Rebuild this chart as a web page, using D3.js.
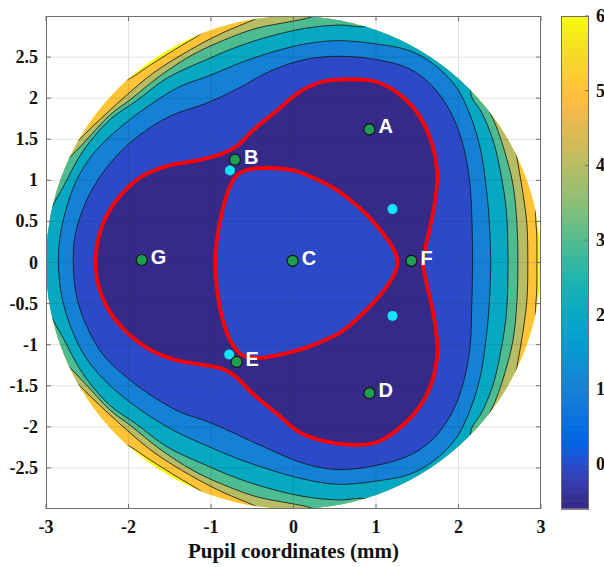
<!DOCTYPE html>
<html><head><meta charset="utf-8">
<script src="https://cdn.jsdelivr.net/npm/d3@7"></script>
<style>html,body{margin:0;padding:0;background:#fff}svg{display:block}</style>
</head><body>
<svg id="chart" width="604" height="567"></svg>
<script>
// ---------------- data ----------------
const xTicks = [-3, -2, -1, 0, 1, 2, 3];
const yTicks = [-2.5, -2, -1.5, -1, -0.5, 0, 0.5, 1, 1.5, 2, 2.5];
const colorbarTicks = [0, 1, 2, 3, 4, 5, 6];
const colorLimits = [-0.6, 6];
const pupilRadius = 3;
const xLabel = "Pupil coordinates (mm)";

const pointNames = ["A", "B", "C", "D", "E", "F", "G"];
const pointX = [0.92, -0.71, -0.01, 0.92, -0.69, 1.43, -1.84];
const pointY = [1.62, 1.25, 0.02, -1.59, -1.21, 0.02, 0.03];

const cyanX = [-0.77, 1.20, 1.20, -0.78];
const cyanY = [1.12, 0.65, -0.65, -1.12];

// MATLAB parula (64)
const parula = ["#352a87","#363093","#3637a0","#353dad","#3243ba","#2c4ac7","#2053d4","#0f5cdd","#0363e1","#0268e1","#046de0","#0871de","#0d75dc","#1079da","#127dd8","#1481d6","#1485d4","#1389d3","#108ed2","#0c93d2","#0998d1","#079ccf","#06a0cd","#06a4ca","#06a7c6","#07a9c2","#0aacbe","#0faeb9","#15b1b4","#1db3af","#25b5a9","#2eb7a4","#38b99e","#42bb98","#4dbc92","#59bd8c","#65be86","#71bf80","#7cbf7b","#87bf77","#92bf73","#9cbf6f","#a5be6b","#aebe67","#b7bd64","#c0bc60","#c8bc5d","#d1bb59","#d9ba56","#e1b952","#e9b94e","#f1b94a","#f8bb44","#fdbe3d","#ffc337","#fec832","#fcce2e","#fad32a","#f7d826","#f5de21","#f5e41d","#f5eb18","#f6f313","#f9fb0e"];

// level 0 contour (red): outer trefoil and inner triangle
const zeroOuter = [[-2.40,0.00],[-2.38,0.22],[-2.31,0.47],[-2.15,0.75],[-1.88,1.02],[-1.55,1.17],[-1.13,1.25],[-0.85,1.33],[-0.67,1.43],[-0.49,1.61],[-0.20,1.85],[0.08,2.08],[0.35,2.20],[0.68,2.23],[1.00,2.20],[1.24,2.08],[1.48,1.85],[1.65,1.53],[1.74,1.12],[1.73,0.85],[1.68,0.55],[1.61,0.23],[1.57,0.00],[1.61,-0.24],[1.68,-0.55],[1.73,-0.85],[1.74,-1.15],[1.65,-1.53],[1.48,-1.82],[1.24,-2.05],[1.00,-2.19],[0.72,-2.22],[0.40,-2.18],[0.08,-2.07],[-0.20,-1.84],[-0.49,-1.60],[-0.69,-1.40],[-0.85,-1.30],[-1.13,-1.24],[-1.45,-1.18],[-1.74,-1.06],[-2.02,-0.85],[-2.22,-0.61],[-2.35,-0.33]];
const zeroInner = [[-0.95,0.00],[-0.93,0.27],[-0.87,0.60],[-0.78,0.90],[-0.69,1.06],[-0.55,1.13],[-0.30,1.15],[0.00,1.12],[0.22,1.04],[0.48,0.91],[0.70,0.75],[0.89,0.58],[1.08,0.36],[1.22,0.15],[1.26,0.00],[1.22,-0.15],[1.08,-0.36],[0.89,-0.57],[0.60,-0.83],[0.30,-0.98],[0.05,-1.07],[-0.20,-1.13],[-0.41,-1.16],[-0.62,-1.13],[-0.76,-0.96],[-0.87,-0.65],[-0.93,-0.30]];

// level 1 and 2 contours (closed)
const level1 = [[-2.67,0.00],[-2.65,0.31],[-2.56,0.63],[-2.40,0.96],[-2.16,1.28],[-1.88,1.54],[-1.50,1.78],[-1.05,1.94],[-0.67,2.12],[-0.26,2.34],[0.14,2.47],[0.54,2.51],[1.00,2.47],[1.40,2.36],[1.69,2.14],[1.91,1.82],[2.05,1.45],[2.13,1.03],[2.16,0.60],[2.17,0.00],[2.16,-0.55],[2.14,-1.02],[2.06,-1.46],[1.92,-1.83],[1.69,-2.15],[1.40,-2.35],[1.00,-2.47],[0.54,-2.52],[0.14,-2.45],[-0.26,-2.29],[-0.67,-2.10],[-1.03,-1.94],[-1.35,-1.83],[-1.66,-1.66],[-2.02,-1.40],[-2.31,-1.12],[-2.51,-0.77],[-2.63,-0.41]];
const level2 = [[-2.85,0.00],[-2.83,0.31],[-2.75,0.67],[-2.63,1.00],[-2.43,1.32],[-2.14,1.61],[-1.78,1.89],[-1.38,2.14],[-1.03,2.27],[-0.67,2.42],[-0.26,2.56],[0.14,2.66],[0.54,2.70],[1.00,2.66],[1.40,2.58],[1.69,2.42],[1.97,2.14],[2.15,1.77],[2.27,1.36],[2.33,0.96],[2.37,0.55],[2.39,0.00],[2.37,-0.55],[2.33,-0.96],[2.27,-1.36],[2.15,-1.77],[1.97,-2.14],[1.69,-2.42],[1.40,-2.58],[1.00,-2.66],[0.54,-2.70],[0.14,-2.64],[-0.26,-2.53],[-0.67,-2.39],[-1.03,-2.24],[-1.46,-2.04],[-1.86,-1.79],[-2.22,-1.50],[-2.51,-1.17],[-2.69,-0.81],[-2.81,-0.41]];

// level 3..6 contours: pieces that cross the pupil edge (clockwise order)
const level3 = [
  [[-3.08,0.50],[-2.86,0.80],[-2.74,1.02],[-2.60,1.28],[-2.42,1.53],[-2.20,1.76],[-1.90,1.97],[-1.54,2.24],[-1.03,2.48],[-0.67,2.63],[-0.26,2.76],[0.14,2.85],[0.54,2.89],[0.90,2.88],[1.05,3.00]],
  [[2.20,2.30],[2.15,2.05],[2.29,1.81],[2.43,1.45],[2.52,1.04],[2.58,0.63],[2.60,0.00],[2.58,-0.63],[2.52,-1.04],[2.43,-1.45],[2.29,-1.81],[2.15,-2.05],[2.20,-2.30]],
  [[1.05,-3.00],[0.90,-2.88],[0.54,-2.89],[0.14,-2.85],[-0.26,-2.76],[-0.67,-2.63],[-1.03,-2.48],[-1.54,-2.24],[-1.90,-1.97],[-2.20,-1.76],[-2.42,-1.53],[-2.60,-1.28],[-2.74,-1.02],[-2.86,-0.80],[-3.08,-0.50]]
];
const level4 = [
  [[-2.90,1.10],[-2.75,1.24],[-2.52,1.48],[-2.22,1.80],[-1.98,1.98],[-1.62,2.27],[-1.22,2.53],[-0.86,2.70],[-0.45,2.85],[-0.05,2.93],[0.22,2.99],[0.45,3.12]],
  [[2.28,2.05],[2.38,1.83],[2.46,1.65],[2.56,1.35],[2.66,0.95],[2.71,0.45],[2.72,0.00],[2.71,-0.45],[2.66,-0.95],[2.56,-1.35],[2.46,-1.65],[2.38,-1.83],[2.28,-2.05]],
  [[0.45,-3.12],[0.22,-2.99],[-0.05,-2.93],[-0.45,-2.85],[-0.86,-2.70],[-1.22,-2.53],[-1.62,-2.27],[-1.98,-1.98],[-2.22,-1.80],[-2.52,-1.48],[-2.75,-1.24],[-2.90,-1.10]]
];
const level5 = [
  [[-2.78,1.30],[-2.63,1.46],[-2.42,1.67],[-2.03,2.03],[-1.68,2.32],[-1.25,2.59],[-0.87,2.79],[-0.45,2.97],[-0.20,3.10]],
  [[2.65,1.60],[2.70,1.32],[2.78,0.85],[2.83,0.45],[2.84,0.00],[2.83,-0.45],[2.78,-0.85],[2.70,-1.32],[2.65,-1.60]],
  [[-0.20,-3.10],[-0.45,-2.97],[-0.87,-2.79],[-1.25,-2.59],[-1.68,-2.32],[-2.03,-2.03],[-2.42,-1.67],[-2.63,-1.46],[-2.78,-1.30]]
];
const level6 = [
  [[-2.15,2.20],[-2.007,2.229],[-1.743,2.399],[-1.437,2.593],[-1.124,2.782],[-0.95,2.92]],
  [[2.96,0.80],[2.935,0.62],[2.95,0.30],[2.95,0.00],[2.95,-0.30],[2.935,-0.62],[2.96,-0.80]],
  [[-0.95,-2.92],[-1.124,-2.782],[-1.437,-2.593],[-1.743,-2.399],[-2.007,-2.229],[-2.15,-2.20]]
];

// ---------------- drawing ----------------
const svg = d3.select("#chart");
const x = d3.scaleLinear().domain([-3, 3]).range([46, 541]);
const y = d3.scaleLinear().domain([-3, 3]).range([509, 16]);
const cbY = d3.scaleLinear().domain(colorLimits).range([509, 16]);
const colorOf = d3.scaleQuantize().domain(colorLimits).range(parula);

const closedLine = d3.line().x(d => x(d[0])).y(d => y(d[1]))
  .curve(d3.curveCatmullRomClosed.alpha(0.5));

// joins contour pieces with an arc outside the pupil (hidden by the clip)
function ringFromPieces(pieces) {
  const pts = [];
  const R = pupilRadius * 1.3;
  pieces.forEach((seg, i) => {
    seg.forEach(p => pts.push(p));
    const last = seg[seg.length - 1];
    const next = pieces[(i + 1) % pieces.length][0];
    const a0 = Math.atan2(last[1], last[0]);
    let a1 = Math.atan2(next[1], next[0]);
    while (a1 > a0) a1 -= 2 * Math.PI;
    const n = Math.max(2, Math.ceil((a0 - a1) / (Math.PI / 12)));
    for (let k = 0; k <= n; k++) {
      const a = a0 + (a1 - a0) * k / n;
      pts.push([R * Math.cos(a), R * Math.sin(a)]);
    }
  });
  return pts;
}

const defs = svg.append("defs");
defs.append("clipPath").attr("id", "pupil").append("ellipse")
  .attr("cx", x(0)).attr("cy", y(0))
  .attr("rx", x(pupilRadius) - x(0)).attr("ry", y(0) - y(pupilRadius));
defs.append("clipPath").attr("id", "plotArea").append("rect")
  .attr("x", x(-3)).attr("y", y(3)).attr("width", x(3) - x(-3)).attr("height", y(-3) - y(3));

const field = svg.append("g").attr("clip-path", "url(#pupil)");
field.append("ellipse")
  .attr("cx", x(0)).attr("cy", y(0))
  .attr("rx", x(pupilRadius) - x(0) + 2).attr("ry", y(0) - y(pupilRadius) + 2)
  .attr("fill", colorOf(6));

const bands = [
  { level: 6, ring: ringFromPieces(level6) },
  { level: 5, ring: ringFromPieces(level5) },
  { level: 4, ring: ringFromPieces(level4) },
  { level: 3, ring: ringFromPieces(level3) },
  { level: 2, ring: level2 },
  { level: 1, ring: level1 }
];
field.selectAll("path.band").data(bands).join("path")
  .attr("class", "band")
  .attr("d", d => closedLine(d.ring))
  .attr("fill", d => colorOf(d.level - 1));
field.append("path").attr("d", closedLine(zeroOuter)).attr("fill", colorOf(colorLimits[0]));
field.append("path").attr("d", closedLine(zeroInner)).attr("fill", colorOf(0));

field.selectAll("path.cline").data(bands).join("path")
  .attr("class", "cline")
  .attr("d", d => closedLine(d.ring))
  .attr("fill", "none").attr("stroke", "#141414").attr("stroke-width", 0.9).attr("stroke-opacity", 0.9);

// grid
const grid = svg.append("g").attr("clip-path", "url(#plotArea)");
grid.selectAll("line.gx").data(xTicks).join("line")
  .attr("x1", d => x(d)).attr("x2", d => x(d)).attr("y1", y(3)).attr("y2", y(-3))
  .attr("stroke", "#262626").attr("stroke-opacity", 0.13).attr("stroke-width", 1);
grid.selectAll("line.gy").data(yTicks).join("line")
  .attr("y1", d => y(d)).attr("y2", d => y(d)).attr("x1", x(-3)).attr("x2", x(3))
  .attr("stroke", "#262626").attr("stroke-opacity", 0.13).attr("stroke-width", 1);

// red zero contours
const red = svg.append("g").attr("clip-path", "url(#pupil)");
[zeroOuter, zeroInner].forEach(r => {
  red.append("path").attr("d", closedLine(r)).attr("fill", "none")
    .attr("stroke", "#ff0000").attr("stroke-width", 3.8).attr("stroke-linejoin", "round");
});

// axes box and ticks
const axisColor = "#6e6e6e";
svg.append("rect").attr("x", x(-3) + 0.5).attr("y", y(3) + 0.5)
  .attr("width", x(3) - x(-3) - 1).attr("height", y(-3) - y(3) - 1)
  .attr("fill", "none").attr("stroke", axisColor).attr("stroke-width", 1);
const tickLen = 5;
const tg = svg.append("g").attr("stroke", axisColor).attr("stroke-width", 1);
xTicks.forEach(t => {
  tg.append("line").attr("x1", x(t)).attr("x2", x(t)).attr("y1", y(-3)).attr("y2", y(-3) - tickLen);
  tg.append("line").attr("x1", x(t)).attr("x2", x(t)).attr("y1", y(3)).attr("y2", y(3) + tickLen);
});
yTicks.forEach(t => {
  tg.append("line").attr("y1", y(t)).attr("y2", y(t)).attr("x1", x(-3)).attr("x2", x(-3) + tickLen);
  tg.append("line").attr("y1", y(t)).attr("y2", y(t)).attr("x1", x(3)).attr("x2", x(3) - tickLen);
});

const serif = "'Liberation Serif','Times New Roman',serif";
svg.selectAll("text.xt").data(xTicks).join("text")
  .attr("class", "xt").attr("x", d => x(d)).attr("y", 533)
  .attr("text-anchor", "middle").attr("font-family", serif).attr("font-weight", "bold")
  .attr("font-size", 18).attr("fill", "#111").text(d => d);
svg.selectAll("text.yt").data(yTicks).join("text")
  .attr("class", "yt").attr("x", 38).attr("y", d => y(d) + 6)
  .attr("text-anchor", "end").attr("font-family", serif).attr("font-weight", "bold")
  .attr("font-size", 18).attr("fill", "#111").text(d => d);
svg.append("text").attr("x", (x(-3) + x(3)) / 2).attr("y", 558)
  .attr("text-anchor", "middle").attr("font-family", serif).attr("font-weight", "bold")
  .attr("font-size", 21).attr("fill", "#111").text(xLabel);

// points
svg.selectAll("circle.cy").data(cyanX).join("circle")
  .attr("class", "cy").attr("cx", d => x(d)).attr("cy", (d, i) => y(cyanY[i]))
  .attr("r", 5).attr("fill", "#14e4f6");
svg.selectAll("circle.pt").data(pointNames).join("circle")
  .attr("class", "pt").attr("cx", (d, i) => x(pointX[i])).attr("cy", (d, i) => y(pointY[i]))
  .attr("r", 5.5).attr("fill", "#1f9e50").attr("stroke", "#111").attr("stroke-width", 1.1);
svg.selectAll("text.pl").data(pointNames).join("text")
  .attr("class", "pl").attr("x", (d, i) => x(pointX[i]) + 9).attr("y", (d, i) => y(pointY[i]) + 4)
  .attr("font-family", "'Liberation Sans',Arial,sans-serif").attr("font-weight", "bold")
  .attr("font-size", 20).attr("fill", "#fff").text(d => d);

// colorbar
const cbX0 = 561, cbW = 28;
const step = (colorLimits[1] - colorLimits[0]) / parula.length;
svg.append("g").selectAll("rect").data(parula).join("rect")
  .attr("x", cbX0).attr("width", cbW)
  .attr("y", (c, i) => cbY(colorLimits[0] + (i + 1) * step))
  .attr("height", (c, i) => cbY(colorLimits[0] + i * step) - cbY(colorLimits[0] + (i + 1) * step) + 0.6)
  .attr("fill", c => c);
svg.append("rect").attr("x", cbX0 + 0.5).attr("y", cbY(colorLimits[1]) + 0.5)
  .attr("width", cbW - 1).attr("height", cbY(colorLimits[0]) - cbY(colorLimits[1]) - 1)
  .attr("fill", "none").attr("stroke", axisColor).attr("stroke-width", 1);
svg.append("g").selectAll("line").data(colorbarTicks).join("line")
  .attr("x1", cbX0 + cbW).attr("x2", cbX0 + cbW - 4)
  .attr("y1", d => cbY(d)).attr("y2", d => cbY(d))
  .attr("stroke", axisColor).attr("stroke-width", 1);
svg.selectAll("text.ct").data(colorbarTicks).join("text")
  .attr("class", "ct").attr("x", 596).attr("y", d => cbY(d) + 6)
  .attr("font-family", serif).attr("font-weight", "bold")
  .attr("font-size", 18).attr("fill", "#111").text(d => d);
</script>
</body></html>
